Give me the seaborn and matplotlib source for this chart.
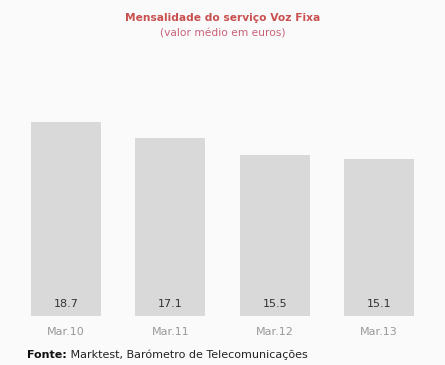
import matplotlib.pyplot as plt
import seaborn as sns
import pandas as pd

sns.set_style('white')
plt.rcParams['font.family'] = ['DejaVu Sans']

periodos = ['Mar.10', 'Mar.11', 'Mar.12', 'Mar.13']
mensalidade = [18.7, 17.1, 15.5, 15.1]
df = pd.DataFrame({'periodo': periodos, 'valor': mensalidade})

bg = '#fafafa'
fig = plt.figure(figsize=(4.45, 3.65), dpi=100, facecolor=bg)
ax = fig.add_axes([13.8 / 445, 49 / 365, 417.4 / 445, 208 / 365])
ax.set_facecolor(bg)

sns.barplot(data=df, x='periodo', y='valor', color='#d9d9d9', width=0.67,
            saturation=1, linewidth=0, ax=ax)
ax.set_xlim(-0.5, 3.5)
ax.set_ylim(0, 20)

# rótulos de valor dentro das barras, junto à base
for i, v in enumerate(mensalidade):
    ax.text(i, 1.15, f'{v:.1f}', ha='center', va='center', fontsize=8, color='#333333')

ax.set_xlabel('')
ax.set_ylabel('')
ax.set_yticks([])
ax.tick_params(axis='x', length=0, pad=8, labelsize=8, labelcolor='#999999')
sns.despine(ax=ax, left=True, bottom=True)

fig.text(0.5, 1 - 18 / 365, 'Mensalidade do serviço Voz Fixa', ha='center', va='center',
         fontsize=7.7, fontweight='bold', color='#c8504f')
fig.text(0.5, 1 - 33 / 365, '(valor médio em euros)', ha='center', va='center',
         fontsize=7.7, color='#c8607a')

# fonte: parte em negrito + resto normal
fonte_b = fig.text(27 / 445, 1 - 355 / 365, 'Fonte:', ha='left', va='center', fontsize=8,
                   fontweight='bold', color='#111111')
fig.canvas.draw()
bb = fonte_b.get_window_extent()
fig.text(bb.x1 / 445, 1 - 355 / 365, ' Marktest, Barómetro de Telecomunicações', ha='left',
         va='center', fontsize=8, color='#222222')

fig.savefig('out.png', dpi=100, facecolor=bg)
